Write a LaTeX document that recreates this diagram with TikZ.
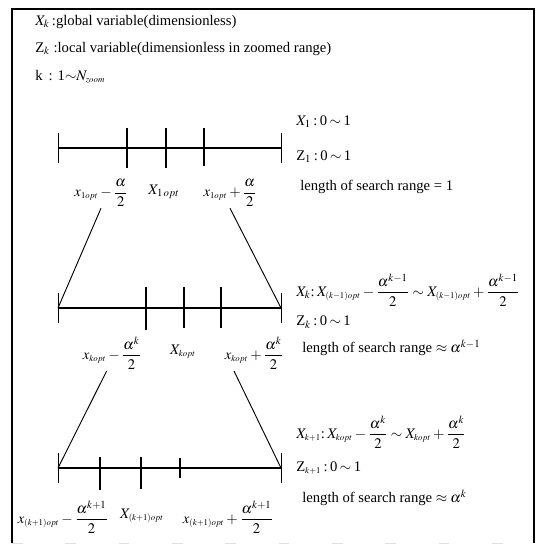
\documentclass[tikz,border=0pt]{standalone}
\usepackage{mathptmx}
\usepackage[no-math]{fontspec}
\setmainfont{Liberation Serif}
\usepackage{amsmath}
\usetikzlibrary{math}
\newcommand{\ssub}[1]{_{\scriptscriptstyle #1}}

\tikzset{
  frame/.style={line width=1.1pt},
  axis/.style={line width=0.9pt},
  endtick/.style={line width=0.7pt},
  midtick/.style={line width=1.4pt},
  txt/.style={anchor=west, inner sep=0pt, font=\fontsize{11}{13}\selectfont},
  lab/.style={inner sep=1pt, font=\fontsize{11}{13}\selectfont},
  link/.style={line width=0.7pt}
}

\begin{document}
\begin{tikzpicture}[x=0.75pt,y=-0.75pt]
\tikzmath{
\xa=58;
\xb=281;
\ya=148;
\yb=308;
\yc=468;
\te=11;
}
\useasboundingbox (0,0) rectangle (542,549);

% frame
\draw[frame] (12,543) -- (12,9) -- (534,9) -- (534,543);
\draw[gray!25, line width=0.6pt, dash pattern=on 8pt off 32pt] (12,543) -- (534,543);

% legend
\node[txt] (leg1) at (35,22) {$X_k$\,:global variable(dimensionless)};
\node[txt] (leg2) at (35,49) {Z$_k$ :local variable(dimensionless in zoomed range)};
\node[txt] (leg3) at (35,77) {k \,: 1$\sim$$N\ssub{zoom}$};

% three ranges
\coordinate (l1) at (\xa,\ya);
\coordinate (r1) at (\xb,\ya);
\coordinate (l2) at (\xa,\yb);
\coordinate (r2) at (\xb,\yb);
\coordinate (l3) at (\xa,\yc);
\coordinate (r3) at (\xb,\yc);
\foreach \i in {1,2,3}{
  \draw[axis] (l\i) -- (r\i);
  \draw[endtick] ([yshift=\te pt]l\i) -- ([yshift=-\te pt]l\i);
  \draw[endtick] ([yshift=\te pt]r\i) -- ([yshift=-\te pt]r\i);
}
\foreach \x/\t/\b in {127/128/168, 166/128/168, 204/128/166,
                      146/287/330, 184/287/328, 221/287/328,
                      100/457/490, 141/457/489, 180/458/478}
  \draw[midtick] (\x,\t) -- (\x,\b);

% labels under the ranges
\node[lab] (lo1) at (101,193) {$x\ssub{1opt}-\dfrac{\alpha}{2}$};
\node[lab] (mid1) at (164,192) {$X_{1\,opt}$};
\node[lab] (hi1) at (230,193) {$x\ssub{1opt}+\dfrac{\alpha}{2}$};

\node[lab] (lo2) at (112,353) {$x\ssub{kopt}-\dfrac{\alpha^{k}}{2}$};
\node[lab] (mid2) at (183,352) {$X\ssub{kopt}$};
\node[lab] (hi2) at (254,353) {$x\ssub{kopt}+\dfrac{\alpha^{k}}{2}$};

\node[lab] (lo3) at (63,517) {$x\ssub{(k+1)opt}-\dfrac{\alpha^{k+1}}{2}$};
\node[lab] (mid3) at (142,516) {$X\ssub{(k+1)opt}$};
\node[lab] (hi3) at (228,517) {$x\ssub{(k+1)opt}+\dfrac{\alpha^{k+1}}{2}$};

% zoom lines
\draw[link] (lo1.south) -- (l2);
\draw[link] (hi1.south) -- (r2);
\draw[link] ([xshift=-4pt]lo2.south) -- (l3);
\draw[link] ([xshift=-15pt]hi2.south) -- (r3);

% right side texts
\node[txt] (x1) at (296,122) {$X_1$\,:\,0\,$\sim$\,1};
\node[txt] (z1) at (296,157) {Z$_1$\,:\,0\,$\sim$\,1};
\node[txt] (len1) at (300,187) {length of search range = 1};

\node[txt] (x2) at (296,290) {$X_k$:\,$X\ssub{(k-1)opt}-\dfrac{\alpha^{k-1}}{2}\sim X\ssub{(k-1)opt}+\dfrac{\alpha^{k-1}}{2}$};
\node[txt] (z2) at (296,322) {Z$_k$\,:\,0\,$\sim$\,1};
\node[txt] (len2) at (302,348) {length of search range $\approx\alpha^{k-1}$};

\node[txt] (x3) at (296,432) {$X\ssub{k+1}$:\,$X\ssub{kopt}-\dfrac{\alpha^{k}}{2}\sim X\ssub{kopt}+\dfrac{\alpha^{k}}{2}$};
\node[txt] (z3) at (296,468) {Z$\ssub{k+1}$\,:\,0\,$\sim$\,1};
\node[txt] (len3) at (302,498) {length of search range $\approx\alpha^{k}$};
\end{tikzpicture}
\end{document}
